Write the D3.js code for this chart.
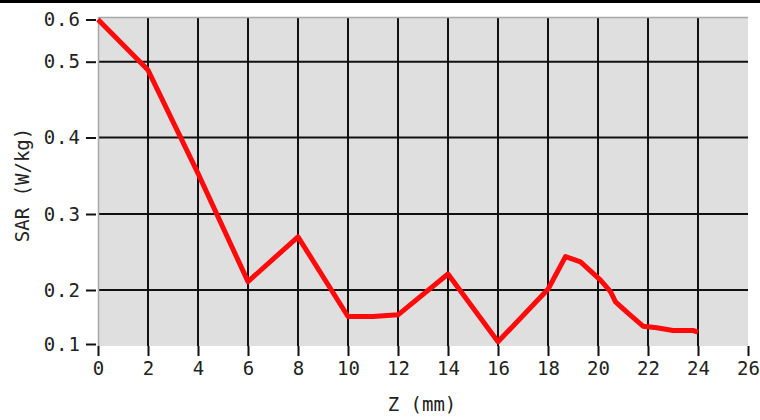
<!DOCTYPE html>
<html><head><meta charset="utf-8">
<script src="https://cdn.jsdelivr.net/npm/d3@7"></script>
<style>body{margin:0;background:#fff}svg{display:block}</style>
</head><body>
<script>
const zValues = [0,2,4,6,8,10,11,12,14,16,18,18.7,19.3,20.1,20.5,20.7,21.2,21.8,22.35,23,23.8,24];
const sarValues = [0.6,0.489,0.353,0.211,0.270,0.151,0.151,0.154,0.221,0.104,0.201,0.244,0.237,0.213,0.197,0.178,0.157,0.133,0.130,0.125,0.125,0.122];
const xTicks = [0,2,4,6,8,10,12,14,16,18,20,22,24,26];
const yTicks = [0.1,0.2,0.3,0.4,0.5,0.6];
const xTitle = "Z (mm)";
const yTitle = "SAR (W/kg)";

const W = 760, H = 420;
const L = 98, R = 748, T = 17, B = 346;
const svg = d3.select("body").append("svg").attr("width", W).attr("height", H);
const font = "'DejaVu Sans Mono', monospace";

const x = d3.scaleLinear().domain([0, 26]).range([L, R]);
const y = d3.scaleLinear().domain(yTicks).range([344, 290, 214, 137.5, 61.7, 19.5]);

svg.append("rect").attr("x", 0).attr("y", 0).attr("width", W).attr("height", 3).attr("fill", "#000");

svg.append("rect").attr("x", L).attr("y", T).attr("width", R - L).attr("height", B - T).attr("fill", "#dfdfdf");

// gridlines
svg.append("g").selectAll("line").data(xTicks.filter(d => d > 0 && d < 26)).join("line")
  .attr("x1", d => x(d)).attr("x2", d => x(d)).attr("y1", T).attr("y2", B)
  .attr("stroke", "#111").attr("stroke-width", 2);
svg.append("g").selectAll("line").data(yTicks.filter(d => d > 0.1 && d < 0.6)).join("line")
  .attr("x1", L).attr("x2", R).attr("y1", d => y(d)).attr("y2", d => y(d))
  .attr("stroke", "#111").attr("stroke-width", 2);

// borders
svg.append("line").attr("x1", L).attr("x2", R).attr("y1", T + 0.5).attr("y2", T + 0.5).attr("stroke", "#a8a8a8").attr("stroke-width", 1.5);
svg.append("line").attr("x1", L + 0.5).attr("x2", L + 0.5).attr("y1", T).attr("y2", B).attr("stroke", "#a8a8a8").attr("stroke-width", 1.5);

// axes
const xAxis = d3.axisBottom(x).tickValues(xTicks).tickSize(10).tickPadding(6).tickFormat(d3.format("d"));
const gx = svg.append("g").attr("transform", `translate(0,${B})`).call(xAxis);
gx.select(".domain").remove();
gx.selectAll(".tick line").attr("stroke", "#111").attr("stroke-width", 2);
gx.selectAll("text").attr("font-family", font).attr("font-size", 19).attr("fill", "#222");

const yAxis = d3.axisLeft(y).tickValues(yTicks).tickSize(10).tickPadding(5).tickFormat(d3.format(".1f"));
const gy = svg.append("g").attr("transform", `translate(${L - 2},0)`).call(yAxis);
gy.select(".domain").remove();
gy.selectAll(".tick line").attr("stroke", "#111").attr("stroke-width", 2);
gy.selectAll("text").attr("font-family", font).attr("font-size", 19).attr("fill", "#222").attr("letter-spacing", 1);

// line
const line = d3.line().x((d, i) => x(zValues[i])).y(d => y(d));
svg.append("path").datum(sarValues).attr("d", line)
  .attr("fill", "none").attr("stroke", "#ff0a0a").attr("stroke-width", 5)
  .attr("stroke-linejoin", "round").attr("stroke-linecap", "butt");

// titles
svg.append("text").attr("x", 422).attr("y", 411).attr("text-anchor", "middle")
  .attr("font-family", font).attr("font-size", 19).attr("fill", "#222").text(xTitle);
svg.append("text").attr("transform", "translate(29,185) rotate(-90)").attr("text-anchor", "middle")
  .attr("font-family", font).attr("font-size", 19).attr("fill", "#222").text(yTitle);
</script>
</body></html>
